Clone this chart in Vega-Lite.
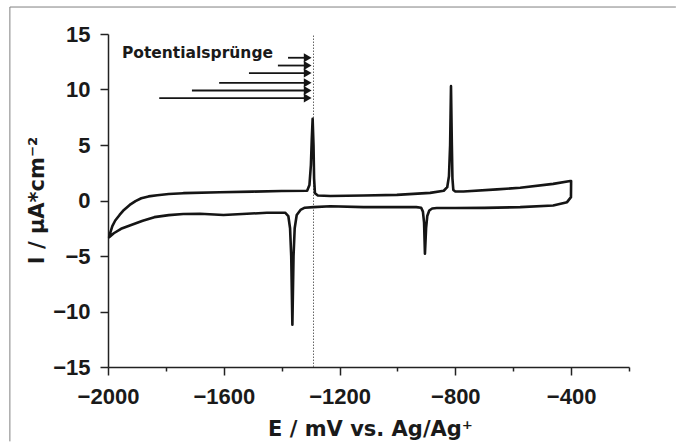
{
  "$schema": "https://vega.github.io/schema/vega-lite/v6.json",
  "width": 521,
  "height": 333,
  "autosize": "none",
  "padding": {"left": 108, "top": 34, "right": 47, "bottom": 75},
  "background": "white",
  "config": {
    "view": {"stroke": null},
    "axis": {
      "grid": false,
      "domainColor": "#222222",
      "domainWidth": 1.5,
      "tickColor": "#222222",
      "tickWidth": 1.5,
      "labelFont": "Liberation Sans",
      "labelFontWeight": "bold",
      "labelFontSize": 22,
      "labelColor": "#1a1a1a",
      "titleFont": "DejaVu Sans",
      "titleFontWeight": "bold",
      "titleFontSize": 21,
      "titleColor": "#1a1a1a",
      "labelFlush": false,
      "labelOverlap": false
    }
  },
  "encoding": {
    "x": {
      "field": "E",
      "type": "quantitative",
      "scale": {"domain": [-2000, -200], "nice": false, "zero": false},
      "axis": {
        "title": "E / mV vs. Ag/Ag⁺",
        "values": [-2000, -1800, -1600, -1400, -1200, -1000, -800, -600, -400, -200],
        "labelExpr": "datum.value % 400 === 0 ? format(datum.value, 'd') : ''",
        "tickSize": {"condition": {"test": "datum.value % 400 === 0", "value": 8}, "value": 4},
        "labelPadding": 11,
        "titleX": 262,
        "titleY": 68,
        "titleBaseline": "alphabetic",
        "titleAlign": "center"
      }
    },
    "y": {
      "field": "I",
      "type": "quantitative",
      "scale": {"domain": [-15, 15], "nice": false, "zero": false},
      "axis": {
        "title": "I / µA*cm⁻²",
        "values": [-15, -10, -5, 0, 5, 10, 15],
        "format": "d",
        "tickSize": 8,
        "labelPadding": 10,
        "titleX": -64.5,
        "titleY": 166,
        "titleAngle": -90,
        "titleBaseline": "alphabetic",
        "titleAlign": "center"
      }
    }
  },
  "layer": [
    {
      "data": {"values": [{"E": -2339, "E2": -2339, "I": 17.43, "I2": -21.7}, {"E": -2339, "E2": -38, "I": 17.43, "I2": 17.43}]},
      "mark": {"type": "rule", "color": "#808080", "strokeWidth": 1},
      "encoding": {"x2": {"field": "E2"}, "y2": {"field": "I2"}}
    },
    {
      "data": {"values": [{"E": -1290, "I": -15, "I2": 15}]},
      "mark": {"type": "rule", "stroke": "#666666", "strokeWidth": 1, "strokeDash": [1.5, 1.5]},
      "encoding": {"y2": {"field": "I2"}}
    },
    {
      "data": {"values": [
        {"E": -1378, "E2": -1306, "I": 12.86},
        {"E": -1413, "E2": -1306, "I": 12.16},
        {"E": -1513, "E2": -1306, "I": 11.48},
        {"E": -1616, "E2": -1306, "I": 10.6},
        {"E": -1710, "E2": -1306, "I": 9.91},
        {"E": -1823, "E2": -1306, "I": 9.23}
      ]},
      "mark": {"type": "rule", "stroke": "#151515", "strokeWidth": 1.8},
      "encoding": {"x2": {"field": "E2"}}
    },
    {
      "data": {"values": [
        {"E": -1310, "I": 12.86},
        {"E": -1310, "I": 12.16},
        {"E": -1310, "I": 11.48},
        {"E": -1310, "I": 10.6},
        {"E": -1310, "I": 9.91},
        {"E": -1310, "I": 9.23}
      ]},
      "mark": {"type": "point", "shape": "triangle-right", "filled": true, "size": 80, "color": "#151515", "opacity": 1}
    },
    {
      "data": {"values": [{"E": -1952, "I": 12.83, "text": "Potentialsprünge"}]},
      "mark": {"type": "text", "align": "left", "baseline": "alphabetic", "font": "DejaVu Sans", "fontWeight": "bold", "fontSize": 15.5, "color": "#1a1a1a"},
      "encoding": {"text": {"field": "text"}}
    },
    {
      "data": {"values": [
        {"k": 1, "E": -400, "I": 1.75},
        {"k": 2, "E": -400.5, "I": 0.3},
        {"k": 3, "E": -414, "I": -0.15},
        {"k": 4, "E": -462, "I": -0.45},
        {"k": 5, "E": -576, "I": -0.6},
        {"k": 6, "E": -700, "I": -0.66},
        {"k": 7, "E": -800, "I": -0.68},
        {"k": 8, "E": -864, "I": -0.68},
        {"k": 9, "E": -880, "I": -0.72},
        {"k": 10, "E": -890, "I": -0.9},
        {"k": 11, "E": -897, "I": -1.4},
        {"k": 12, "E": -901, "I": -2.5},
        {"k": 13, "E": -905, "I": -4.8},
        {"k": 14, "E": -908, "I": -2.0},
        {"k": 15, "E": -912, "I": -1.0},
        {"k": 16, "E": -918, "I": -0.65},
        {"k": 17, "E": -935, "I": -0.6},
        {"k": 18, "E": -1002, "I": -0.6},
        {"k": 19, "E": -1117, "I": -0.6},
        {"k": 20, "E": -1232, "I": -0.52},
        {"k": 21, "E": -1290, "I": -0.6},
        {"k": 22, "E": -1320, "I": -0.65},
        {"k": 23, "E": -1335, "I": -0.85},
        {"k": 24, "E": -1348, "I": -1.3},
        {"k": 25, "E": -1355, "I": -2.5},
        {"k": 26, "E": -1359, "I": -5},
        {"k": 27, "E": -1363, "I": -11.2},
        {"k": 28, "E": -1367, "I": -5},
        {"k": 29, "E": -1371, "I": -2.5},
        {"k": 30, "E": -1377, "I": -1.4},
        {"k": 31, "E": -1388, "I": -1.1},
        {"k": 32, "E": -1451, "I": -1.1},
        {"k": 33, "E": -1520, "I": -1.2},
        {"k": 34, "E": -1601, "I": -1.3},
        {"k": 35, "E": -1682, "I": -1.2},
        {"k": 36, "E": -1740, "I": -1.22},
        {"k": 37, "E": -1790, "I": -1.32},
        {"k": 38, "E": -1840, "I": -1.5},
        {"k": 39, "E": -1880, "I": -1.82},
        {"k": 40, "E": -1920, "I": -2.2},
        {"k": 41, "E": -1955, "I": -2.55},
        {"k": 42, "E": -1980, "I": -2.95},
        {"k": 43, "E": -1996, "I": -3.3},
        {"k": 44, "E": -1992, "I": -2.9},
        {"k": 45, "E": -1985, "I": -2.3},
        {"k": 46, "E": -1975, "I": -1.8},
        {"k": 47, "E": -1960, "I": -1.3},
        {"k": 48, "E": -1945, "I": -0.85},
        {"k": 49, "E": -1925, "I": -0.4},
        {"k": 50, "E": -1905, "I": -0.05},
        {"k": 51, "E": -1885, "I": 0.2},
        {"k": 52, "E": -1860, "I": 0.37},
        {"k": 53, "E": -1830, "I": 0.48},
        {"k": 54, "E": -1790, "I": 0.58},
        {"k": 55, "E": -1740, "I": 0.66},
        {"k": 56, "E": -1613, "I": 0.75},
        {"k": 57, "E": -1500, "I": 0.8},
        {"k": 58, "E": -1400, "I": 0.85},
        {"k": 59, "E": -1312, "I": 0.88},
        {"k": 60, "E": -1304, "I": 1.4},
        {"k": 61, "E": -1299, "I": 3.2},
        {"k": 62, "E": -1296, "I": 5.5},
        {"k": 63, "E": -1293, "I": 7.36},
        {"k": 64, "E": -1290, "I": 5},
        {"k": 65, "E": -1288, "I": 2},
        {"k": 66, "E": -1285, "I": 0.65},
        {"k": 67, "E": -1275, "I": 0.45},
        {"k": 68, "E": -1232, "I": 0.4},
        {"k": 69, "E": -1117, "I": 0.45},
        {"k": 70, "E": -1002, "I": 0.51},
        {"k": 71, "E": -887, "I": 0.69},
        {"k": 72, "E": -840, "I": 0.88},
        {"k": 73, "E": -828, "I": 1.2},
        {"k": 74, "E": -822, "I": 2.2},
        {"k": 75, "E": -818, "I": 5},
        {"k": 76, "E": -815, "I": 10.3},
        {"k": 77, "E": -812, "I": 5},
        {"k": 78, "E": -810, "I": 2},
        {"k": 79, "E": -807, "I": 0.95},
        {"k": 80, "E": -800, "I": 0.81},
        {"k": 81, "E": -772, "I": 0.81},
        {"k": 82, "E": -656, "I": 1.0},
        {"k": 83, "E": -576, "I": 1.15},
        {"k": 84, "E": -462, "I": 1.5},
        {"k": 85, "E": -403, "I": 1.75},
        {"k": 86, "E": -400, "I": 1.75}
      ]},
      "mark": {"type": "line", "stroke": "#151515", "strokeWidth": 2.6, "strokeJoin": "round", "strokeCap": "round"},
      "encoding": {"order": {"field": "k", "type": "quantitative"}}
    }
  ]
}
